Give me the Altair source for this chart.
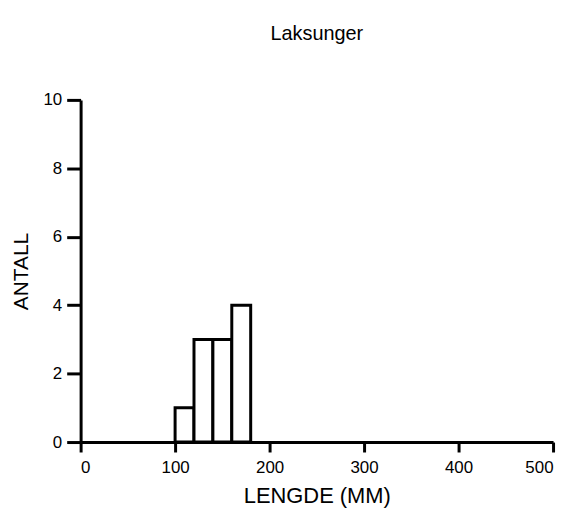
import altair as alt
import pandas as pd

bin_start = [100, 120, 140, 160]
bin_end = [120, 140, 160, 180]
counts = [1, 3, 3, 4]
x_ticks = [0, 100, 200, 300, 400, 500]
y_ticks = [0, 2, 4, 6, 8, 10]

df = pd.DataFrame({"start": bin_start, "end": bin_end, "count": counts})

FONT = "Liberation Sans"

chart = alt.Chart(df).mark_rect(
    fill="white", stroke="black", strokeWidth=3
).encode(
    x=alt.X("start:Q", scale=alt.Scale(domain=[0, 500], nice=False, zero=False),
            axis=alt.Axis(values=x_ticks, title="LENGDE (MM)", format="d",
                          tickSize=10, labelPadding=8, labelFontSize=17,
                          titleFontSize=22, titleFontWeight="normal",
                          titleX=237.5, titleY=61, titleBaseline="alphabetic",
                          titleAlign="center")),
    x2="end:Q",
    y=alt.Y("count:Q", scale=alt.Scale(domain=[0, 10], nice=False),
            axis=alt.Axis(values=y_ticks, title="ANTALL", format="d",
                          tickSize=14, labelPadding=5, labelFontSize=17,
                          titleFontSize=21, titleFontWeight="normal",
                          titleX=-59, titleY=172, titleAngle=-90,
                          titleBaseline="middle", titleAlign="center")),
    y2=alt.datum(0),
).properties(
    width=475,
    height=344,
    title=alt.TitleParams("Laksunger", fontSize=20, fontWeight="normal",
                          font=FONT, anchor="middle", offset=47, color="black"),
    autosize=alt.AutoSizeParams(type="none"),
    padding={"left": 73, "top": 91, "right": 10, "bottom": 80},
).configure_view(stroke=None).configure_axis(
    domainColor="black", domainWidth=3, tickColor="black", tickWidth=3,
    grid=False, labelColor="black", titleColor="black", labelFont=FONT,
    titleFont=FONT,
)

chart.save("out.html", embed_options={"renderer": "svg", "actions": False})
